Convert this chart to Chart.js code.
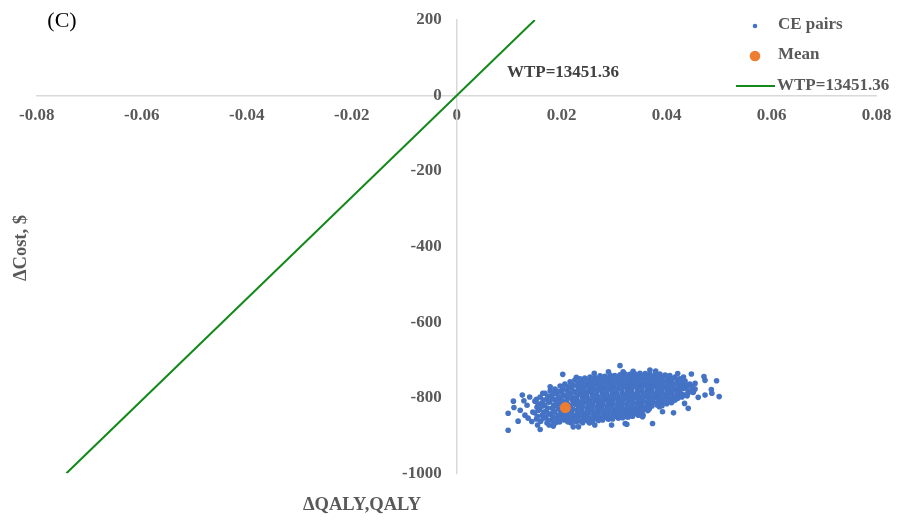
<!DOCTYPE html>
<html>
<head>
<meta charset="utf-8">
<script src="https://cdn.jsdelivr.net/npm/chart.js@4.4.1/dist/chart.umd.min.js"></script>
<style>
  html, body { margin: 0; padding: 0; background: #ffffff; }
  #wrap { width: 897px; height: 520px; position: relative; }
</style>
</head>
<body>
<div id="wrap"><canvas id="c" width="897" height="520"></canvas></div>
<script>
// Cost-effectiveness plane: incremental QALY vs incremental cost
const wtp = 13451.36;
const xTicksRange = [-0.08, 0.08];
const yTicksRange = [-1000, 200];
const meanPair = [0.0207, -826];

// Simulated cost-effectiveness pairs [ΔQALY, ΔCost]
const cePairs = [
  // left tail
  [0.0098,-886],[0.0098,-841],[0.0108,-809],[0.0109,-826],[0.0125,-793],[0.0128,-808],[0.0139,-798],
  [0.0152,-804],[0.0121,-833],[0.0117,-862],[0.0130,-846],[0.0143,-863],[0.0159,-884],[0.0184,-875],
  [0.0191,-863],[0.0164,-788],[0.0178,-771],[0.0189,-784],[0.0202,-738],[0.0228,-746],[0.0239,-756],
  [0.0222,-877],[0.0203,-854],[0.0134,-820],[0.0145,-838],[0.0136,-854],[0.0154,-872],
  // right tail and fringe
  [0.0311,-715],[0.0317,-731],[0.0368,-727],[0.0421,-736],[0.0432,-745],[0.0447,-737],[0.0471,-744],
  [0.0495,-755],[0.0473,-754],[0.0454,-762],[0.0435,-769],[0.0485,-778],[0.0486,-788],[0.0473,-793],
  [0.0500,-797],[0.0460,-799],[0.0451,-784],[0.0441,-787],[0.0434,-815],[0.0441,-828],[0.0413,-840],
  [0.0392,-837],[0.0373,-868],[0.0355,-846],[0.0324,-850],[0.0321,-868],[0.0295,-872],[0.0263,-872],
  [0.0232,-877],[0.0354,-850],[0.0324,-870],[0.0289,-731],[0.0336,-730],[0.0379,-729],[0.0262,-735],
  // dense core
  [0.0149,-809],[0.0153,-825],[0.0148,-840],[0.0152,-856],
  [0.0159,-798],[0.0162,-814],[0.0158,-830],[0.0163,-846],[0.0160,-862],
  [0.0168,-788],[0.0172,-803],[0.0167,-819],[0.0171,-835],[0.0169,-851],[0.0172,-867],
  [0.0178,-782],[0.0181,-795],[0.0177,-811],[0.0182,-827],[0.0178,-843],[0.0181,-859],[0.0176,-872],
  [0.0187,-777],[0.0191,-790],[0.0188,-806],[0.0190,-822],[0.0186,-838],[0.0191,-854],[0.0188,-867],
  [0.0197,-769],[0.0200,-785],[0.0196,-801],[0.0199,-817],[0.0197,-833],[0.0201,-848],[0.0196,-864],
  [0.0206,-764],[0.0210,-780],[0.0205,-795],[0.0209,-811],[0.0207,-827],[0.0210,-843],[0.0205,-859],
  [0.0216,-758],[0.0219,-774],[0.0215,-790],[0.0220,-806],[0.0216,-822],[0.0219,-838],[0.0215,-854],[0.0218,-867],
  [0.0225,-753],[0.0229,-769],[0.0224,-785],[0.0228,-801],[0.0226,-817],[0.0229,-833],[0.0224,-848],[0.0228,-864],
  [0.0235,-750],[0.0238,-766],[0.0234,-782],[0.0239,-798],[0.0235,-814],[0.0238,-830],[0.0233,-846],[0.0237,-862],
  [0.0244,-748],[0.0248,-764],[0.0243,-780],[0.0247,-795],[0.0245,-811],[0.0248,-827],[0.0243,-843],[0.0247,-859],
  [0.0254,-745],[0.0257,-761],[0.0253,-777],[0.0258,-793],[0.0254,-809],[0.0257,-825],[0.0252,-840],[0.0256,-856],[0.0253,-867],
  [0.0263,-746],[0.0267,-760],[0.0262,-776],[0.0266,-792],[0.0264,-808],[0.0267,-824],[0.0262,-840],[0.0266,-855],
  [0.0273,-742],[0.0276,-758],[0.0272,-774],[0.0277,-790],[0.0273,-806],[0.0276,-822],[0.0271,-838],[0.0275,-854],
  [0.0282,-743],[0.0286,-757],[0.0281,-773],[0.0285,-789],[0.0283,-805],[0.0286,-821],[0.0281,-837],[0.0284,-852],
  [0.0292,-740],[0.0295,-756],[0.0291,-772],[0.0296,-788],[0.0292,-803],[0.0295,-819],[0.0290,-835],[0.0294,-851],
  [0.0301,-741],[0.0305,-755],[0.0300,-771],[0.0304,-787],[0.0302,-802],[0.0305,-818],[0.0300,-834],[0.0303,-849],
  [0.0311,-739],[0.0314,-754],[0.0310,-770],[0.0315,-786],[0.0311,-802],[0.0314,-818],[0.0309,-833],[0.0313,-847],
  [0.0321,-737],[0.0324,-753],[0.0320,-769],[0.0325,-785],[0.0321,-801],[0.0324,-817],[0.0319,-832],[0.0323,-845],
  [0.0330,-738],[0.0334,-752],[0.0329,-768],[0.0333,-784],[0.0331,-800],[0.0334,-816],[0.0329,-831],[0.0332,-844],
  [0.0340,-737],[0.0343,-751],[0.0339,-767],[0.0344,-783],[0.0340,-799],[0.0343,-815],[0.0338,-829],[0.0342,-842],
  [0.0349,-735],[0.0352,-750],[0.0348,-766],[0.0353,-782],[0.0349,-798],[0.0352,-813],[0.0348,-826],[0.0351,-839],
  [0.0359,-736],[0.0362,-749],[0.0358,-765],[0.0363,-781],[0.0359,-797],[0.0362,-812],[0.0357,-828],
  [0.0368,-737],[0.0371,-752],[0.0367,-768],[0.0372,-784],[0.0368,-800],[0.0371,-815],[0.0367,-829],
  [0.0378,-738],[0.0381,-751],[0.0377,-767],[0.0382,-783],[0.0378,-799],[0.0381,-814],
  [0.0387,-737],[0.0390,-752],[0.0386,-768],[0.0391,-784],[0.0387,-800],[0.0390,-813],[0.0386,-824],
  [0.0397,-740],[0.0400,-755],[0.0396,-771],[0.0401,-787],[0.0397,-802],[0.0400,-816],
  [0.0406,-741],[0.0409,-756],[0.0405,-772],[0.0410,-788],[0.0406,-803],[0.0409,-813],
  [0.0416,-745],[0.0419,-761],[0.0415,-777],[0.0420,-793],[0.0416,-806],
  [0.0425,-750],[0.0428,-766],[0.0424,-782],[0.0429,-798],
  [0.0435,-756],[0.0438,-774],[0.0434,-793],
  [0.0444,-764],[0.0447,-781],
  [0.0454,-777],
  // dense core, in-between rows
  [0.0155,-817],[0.0156,-833],[0.0154,-849],
  [0.0165,-806],[0.0164,-822],[0.0166,-838],[0.0165,-854],
  [0.0174,-796],[0.0175,-811],[0.0173,-827],[0.0175,-843],[0.0174,-859],
  [0.0184,-789],[0.0183,-803],[0.0185,-819],[0.0184,-835],[0.0183,-851],[0.0185,-866],
  [0.0193,-783],[0.0194,-798],[0.0192,-814],[0.0194,-830],[0.0193,-846],[0.0192,-861],
  [0.0202,-777],[0.0203,-793],[0.0201,-808],[0.0203,-824],[0.0202,-840],[0.0201,-856],
  [0.0212,-771],[0.0213,-787],[0.0211,-802],[0.0212,-818],[0.0213,-834],[0.0211,-850],[0.0212,-864],
  [0.0221,-766],[0.0222,-782],[0.0220,-798],[0.0222,-814],[0.0221,-830],[0.0220,-846],[0.0222,-860],
  [0.0231,-761],[0.0232,-777],[0.0230,-793],[0.0231,-809],[0.0232,-825],[0.0230,-841],[0.0231,-856],
  [0.0240,-757],[0.0241,-773],[0.0239,-789],[0.0241,-805],[0.0240,-821],[0.0239,-837],[0.0241,-852],[0.0240,-866],
  [0.0250,-754],[0.0251,-770],[0.0249,-786],[0.0250,-802],[0.0251,-818],[0.0249,-834],[0.0250,-850],[0.0251,-863],
  [0.0259,-753],[0.0260,-768],[0.0258,-784],[0.0260,-800],[0.0259,-816],[0.0258,-832],[0.0260,-848],[0.0259,-862],
  [0.0269,-751],[0.0270,-766],[0.0268,-782],[0.0269,-798],[0.0270,-814],[0.0268,-830],[0.0269,-846],[0.0270,-860],
  [0.0278,-750],[0.0279,-765],[0.0277,-781],[0.0279,-797],[0.0278,-813],[0.0277,-829],[0.0279,-845],[0.0278,-859],
  [0.0288,-749],[0.0289,-764],[0.0287,-780],[0.0288,-796],[0.0289,-811],[0.0287,-827],[0.0288,-843],[0.0289,-857],
  [0.0297,-748],[0.0298,-763],[0.0296,-779],[0.0298,-795],[0.0297,-810],[0.0296,-826],[0.0298,-842],[0.0297,-856],
  [0.0307,-747],[0.0308,-762],[0.0306,-778],[0.0307,-794],[0.0308,-810],[0.0306,-825],[0.0307,-841],[0.0308,-854],
  [0.0316,-745],[0.0317,-761],[0.0315,-777],[0.0317,-793],[0.0316,-809],[0.0315,-825],[0.0317,-840],[0.0316,-853],
  [0.0326,-745],[0.0327,-760],[0.0325,-776],[0.0326,-792],[0.0327,-808],[0.0325,-824],[0.0326,-838],[0.0327,-851],
  [0.0335,-744],[0.0336,-759],[0.0334,-775],[0.0336,-791],[0.0335,-807],[0.0334,-823],[0.0336,-837],[0.0335,-849],
  [0.0345,-743],[0.0346,-758],[0.0344,-774],[0.0345,-790],[0.0346,-806],[0.0344,-821],[0.0345,-834],[0.0346,-846],
  [0.0354,-742],[0.0355,-757],[0.0353,-773],[0.0355,-789],[0.0354,-805],[0.0353,-820],[0.0355,-833],
  [0.0364,-743],[0.0365,-758],[0.0363,-774],[0.0364,-790],[0.0365,-806],[0.0363,-821],[0.0364,-834],
  [0.0373,-744],[0.0374,-759],[0.0372,-775],[0.0374,-791],[0.0373,-807],[0.0372,-822],
  [0.0383,-744],[0.0384,-759],[0.0382,-775],[0.0383,-791],[0.0384,-807],[0.0382,-819],
  [0.0392,-745],[0.0393,-760],[0.0391,-776],[0.0393,-792],[0.0392,-808],[0.0391,-821],
  [0.0402,-747],[0.0403,-763],[0.0401,-779],[0.0402,-795],[0.0403,-810],
  [0.0411,-750],[0.0412,-766],[0.0410,-782],[0.0412,-798],[0.0411,-809],
  [0.0421,-755],[0.0422,-771],[0.0420,-787],[0.0421,-801],
  [0.0430,-760],[0.0431,-776],[0.0429,-791],
  [0.0440,-768],[0.0441,-784],[0.0439,-795],
  [0.0449,-771],[0.0450,-786]
];

const seriesNames = ['CE pairs', 'Mean', 'WTP=13451.36'];
const colors = { ce: '#4472C4', mean: '#ED7D31', wtp: '#12891A', axis: '#D9D9D9', text: '#595959' };
const serif = "'Liberation Serif', 'Times New Roman', serif";

// Willingness-to-pay threshold line, spanning the cost range of the plot
const wtpLine = [yTicksRange[0], yTicksRange[1]].map(c => ({ x: c / wtp, y: c }));

const extraText = {
  id: 'extraText',
  afterDraw(chart) {
    const ctx = chart.ctx;
    ctx.save();
    // panel letter
    ctx.fillStyle = '#000000';
    ctx.font = "22px " + serif;
    ctx.textAlign = 'center';
    ctx.textBaseline = 'middle';
    ctx.fillText('(C)', 62, 21);

    // axis titles
    ctx.fillStyle = colors.text;
    ctx.font = "bold 18.5px " + serif;
    ctx.fillText('\u0394QALY,QALY', 362, 505);
    ctx.save();
    ctx.translate(21, 248);
    ctx.rotate(-Math.PI / 2);
    ctx.fillText('\u0394Cost, $', 0, 0);
    ctx.restore();

    // threshold label beside the line
    ctx.fillStyle = '#404040';
    ctx.font = "bold 17px " + serif;
    ctx.fillText('WTP=' + wtp.toFixed(2), 563, 73);

    // legend
    ctx.textAlign = 'left';
    ctx.fillStyle = colors.ce;
    ctx.beginPath(); ctx.arc(755, 26, 2.3, 0, Math.PI * 2); ctx.fill();
    ctx.fillStyle = colors.mean;
    ctx.beginPath(); ctx.arc(755, 56, 5.3, 0, Math.PI * 2); ctx.fill();
    ctx.strokeStyle = colors.wtp;
    ctx.lineWidth = 2;
    ctx.beginPath(); ctx.moveTo(736, 86); ctx.lineTo(775, 86); ctx.stroke();
    ctx.fillStyle = colors.text;
    ctx.font = "bold 17px " + serif;
    ctx.fillText(seriesNames[0], 778, 25);
    ctx.fillText(seriesNames[1], 778, 55);
    ctx.fillText(seriesNames[2], 777, 86);
    ctx.restore();
  }
};

const tickFont = { family: serif, size: 17, weight: 'bold' };

// positioned axes take no layout room and add no label padding of their own
const flatten = (s, dim) => {
  s[dim] = 0;
  s.paddingTop = 0; s.paddingBottom = 0; s.paddingLeft = 0; s.paddingRight = 0;
};

new Chart(document.getElementById('c'), {
  type: 'scatter',
  data: {
    datasets: [
      {
        label: seriesNames[1],
        data: [{ x: meanPair[0], y: meanPair[1] }],
        backgroundColor: colors.mean,
        borderColor: colors.mean,
        borderWidth: 0,
        pointRadius: 5.5,
        order: 0
      },
      {
        label: seriesNames[0],
        data: cePairs.map(p => ({ x: p[0], y: p[1] })),
        backgroundColor: colors.ce,
        borderColor: colors.ce,
        borderWidth: 0,
        pointRadius: 2.8,
        order: 1
      },
      {
        label: seriesNames[2],
        type: 'line',
        data: wtpLine,
        borderColor: colors.wtp,
        borderWidth: 2,
        pointRadius: 0,
        fill: false,
        order: 2
      }
    ]
  },
  options: {
    responsive: false,
    animation: false,
    devicePixelRatio: 1,
    layout: { padding: { left: 36.7, right: 20.3, top: 20, bottom: 46.7 } },
    plugins: { legend: { display: false }, tooltip: { enabled: false } },
    scales: {
      x: {
        type: 'linear',
        min: xTicksRange[0],
        max: xTicksRange[1],
        position: { y: 0 },
        grid: { display: false, drawTicks: false },
        border: { display: true, color: colors.axis, width: 1.5 },
        ticks: {
          stepSize: 0.02,
          autoSkip: false,
          maxRotation: 0,
          padding: 10,
          color: colors.text,
          font: tickFont,
          callback: v => (Math.abs(v) < 1e-9 ? '0' : v.toFixed(2))
        },
        afterFit: s => flatten(s, 'height')
      },
      y: {
        type: 'linear',
        min: yTicksRange[0],
        max: yTicksRange[1],
        position: 'center',
        grid: { display: false, drawTicks: false },
        border: { display: true, color: colors.axis, width: 1.5 },
        ticks: {
          stepSize: 200,
          autoSkip: false,
          padding: 15,
          color: colors.text,
          font: tickFont,
          callback: v => String(Math.round(v))
        },
        afterFit: s => flatten(s, 'width')
      }
    }
  },
  plugins: [extraText]
});
</script>
</body>
</html>
